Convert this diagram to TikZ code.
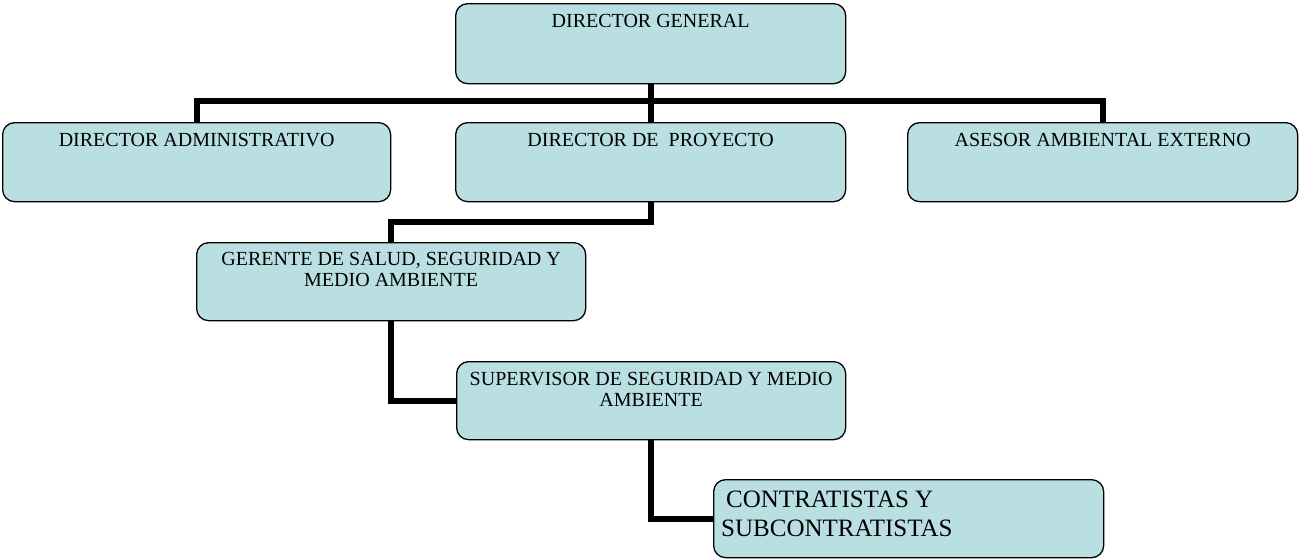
\documentclass[tikz,border=0pt]{standalone}
\usepackage{fontspec}
\setmainfont{Liberation Serif}
\definecolor{boxfill}{RGB}{186,223,227}
\begin{document}
\begin{tikzpicture}[x=1pt,y=-1pt,
  orgbox/.style={draw=black, line width=1.3pt, fill=boxfill, rounded corners=12pt, inner sep=0pt, anchor=north west},
  lbl/.style={inner sep=0pt, anchor=north, align=center, font=\fontsize{20}{21.5}\selectfont, yshift=-11pt},
  biglbl/.style={inner sep=0pt, anchor=north west, align=left, font=\fontsize{25}{29}\selectfont},
  link/.style={line width=6pt, line join=miter, draw=black}]
\useasboundingbox (0,0) rectangle (1299,558);
% boxes
\node[orgbox, minimum width=390pt, minimum height=80pt] (dg) at (455,3) {};
\node[orgbox, minimum width=388pt, minimum height=79pt] (admin) at (2,122) {};
\node[orgbox, minimum width=390pt, minimum height=79pt] (proy) at (455,122) {};
\node[orgbox, minimum width=390pt, minimum height=79pt] (asesor) at (907,122) {};
\node[orgbox, minimum width=389pt, minimum height=78pt] (ger) at (196,242) {};
\node[orgbox, minimum width=389pt, minimum height=78pt] (sup) at (456,361) {};
\node[orgbox, minimum width=390pt, minimum height=78pt] (con) at (713,479) {};
% labels
\node[lbl] (tdg) at (dg.north) {DIRECTOR GENERAL};
\node[lbl] (tadmin) at (admin.north) {DIRECTOR ADMINISTRATIVO};
\node[lbl] (tproy) at (proy.north) {DIRECTOR DE\ \ PROYECTO};
\node[lbl] (tasesor) at (asesor.north) {ASESOR AMBIENTAL EXTERNO};
\node[lbl, yshift=1pt] (tger) at (ger.north) {GERENTE DE SALUD, SEGURIDAD Y\\MEDIO AMBIENTE};
\node[lbl] (tsup) at (sup.north) {SUPERVISOR DE SEGURIDAD Y MEDIO\\AMBIENTE};
\node[biglbl, xshift=8pt, yshift=-12pt] (tcon) at (con.north west) {\hspace*{5pt}CONTRATISTAS Y\\SUBCONTRATISTAS};
% connectors
\coordinate (bar) at (650,101);
\draw[link] (dg.south) -- (proy.north);
\draw[link] (admin.north) |- (bar) -| (asesor.north);
\draw[link] (proy.south) -- ++(0,20) -| (ger.north);
\draw[link] (ger.south) |- (sup.west);
\draw[link] (sup.south) |- (con.west);
\end{tikzpicture}
\end{document}
